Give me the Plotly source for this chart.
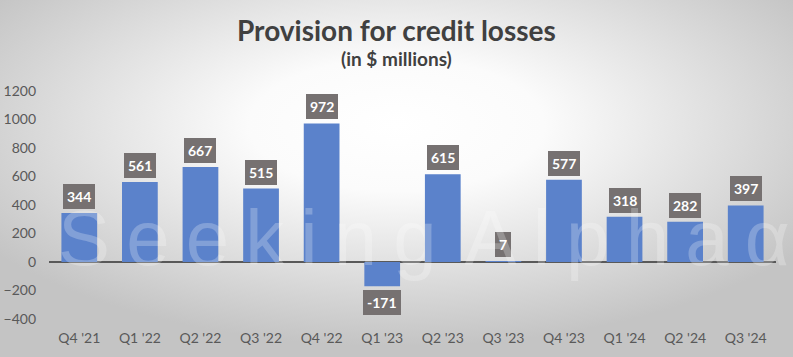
import base64
import plotly.graph_objects as go

quarters = ["Q4 '21", "Q1 '22", "Q2 '22", "Q3 '22", "Q4 '22", "Q1 '23",
            "Q2 '23", "Q3 '23", "Q4 '23", "Q1 '24", "Q2 '24", "Q3 '24"]
provision = [344, 561, 667, 515, 972, -171, 615, 7, 577, 318, 282, 397]
y_ticks = [-400, -200, 0, 200, 400, 600, 800, 1000, 1200]

FONT = "Lato"
W, H = 793, 357
ML, MR, MT, MB = 49, 17, 91, 38
PW, PH = W - ML - MR, H - MT - MB

svg = """<svg xmlns='http://www.w3.org/2000/svg' width='793' height='357' viewBox='0 0 793 357' preserveAspectRatio='none'>
<defs><radialGradient id='g' cx='50%' cy='35%' r='62%' gradientUnits='objectBoundingBox'>
<stop offset='0%' stop-color='#ffffff'/>
<stop offset='30%' stop-color='#fbfbfb'/>
<stop offset='100%' stop-color='#c4c4c4'/>
</radialGradient></defs>
<rect width='793' height='357' fill='url(#g)'/>
</svg>"""
bg_src = "data:image/svg+xml;base64," + base64.b64encode(svg.encode()).decode()

fig = go.Figure()
fig.add_trace(go.Bar(
    x=quarters, y=provision,
    marker=dict(color="#5B82CB", line=dict(width=0)),
    hoverinfo="x+y",
))

annotations = []
for q, v in zip(quarters, provision):
    annotations.append(dict(
        x=q, y=v, xref="x", yref="y",
        text=f"<b>{v}</b>", showarrow=False,
        yanchor="bottom" if v >= 0 else "top",
        yshift=4 if v >= 0 else -4,
        bgcolor="#767171", borderpad=4, borderwidth=0,
        font=dict(family=FONT, size=14, color="white"),
    ))

cx = (396 - ML) / PW
annotations.append(dict(
    x=cx, y=1.0, xref="paper", yref="paper", yanchor="middle",
    yshift=MT - 30, text="<b>Provision for credit losses</b>", showarrow=False,
    font=dict(family=FONT, size=28, color="#404040"),
))
annotations.append(dict(
    x=cx, y=1.0, xref="paper", yref="paper", yanchor="middle",
    yshift=MT - 58, text="<b>(in $ millions)</b>", showarrow=False,
    font=dict(family=FONT, size=19, color="#404040"),
))
# watermark (letters widely spaced)
gap = "<span style='font-size:58px'> </span>"
word_gap = "<span style='font-size:100px'> </span>"
wm = gap.join("Seeking") + word_gap + gap.join("Alpha") + gap + "\u03b1"
annotations.append(dict(
    x=(56 - ML) / PW, y=(MT + PH - 230) / PH, xref="paper", yref="paper",
    xanchor="left", yanchor="middle",
    text=wm, showarrow=False,
    font=dict(family="Liberation Sans", size=78, color="rgba(255,255,255,0.24)"),
))

fig.update_layout(
    width=W, height=H,
    margin=dict(l=ML, r=MR, t=MT, b=MB),
    paper_bgcolor="white", plot_bgcolor="rgba(0,0,0,0)",
    images=[dict(source=bg_src, xref="paper", yref="paper", x=-ML / PW, y=1 + MT / PH,
                 sizex=W / PW, sizey=H / PH, xanchor="left", yanchor="top",
                 sizing="stretch", layer="below")],
    bargap=0.41,
    showlegend=False,
    annotations=annotations,
    font=dict(family=FONT, color="#595959", size=14),
    xaxis=dict(showgrid=False, showline=False, ticks="", automargin=False,
               tickfont=dict(size=14, color="#595959"), ticklabelstandoff=9),
    yaxis=dict(range=[-400, 1200], tickvals=y_ticks, showgrid=False, showline=False,
               zeroline=True, zerolinecolor="#595959", zerolinewidth=2, automargin=False,
               ticks="", tickfont=dict(size=14, color="#595959"), ticklabelstandoff=12),
)

fig.write_html("out.html", config={"displayModeBar": False},
               post_script="document.body.style.margin='0';document.body.style.overflow='hidden';")
